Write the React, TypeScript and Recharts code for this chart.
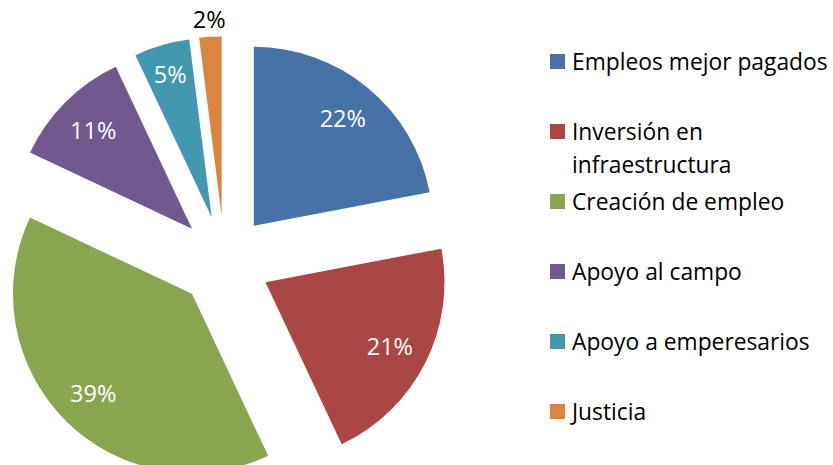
import React from 'react';
import { PieChart, Pie, Cell, Legend, Sector } from 'recharts';

const categories = [
  'Empleos mejor pagados',
  'Inversión en infraestructura',
  'Creación de empleo',
  'Apoyo al campo',
  'Apoyo a emperesarios',
  'Justicia',
];
const shares = [22, 21, 39, 11, 5, 2];
const colors = ['#4672A8', '#AA4644', '#89A54E', '#71588F', '#4298AF', '#DB843D'];

const data = categories.map((name, i) => ({ name, value: shares[i] }));

const RAD = Math.PI / 180;
const EXPLODE = 46;
const FONT = '"Open Sans", sans-serif';

// every slice is pulled out along its mid angle
const ExplodedSector = (props: any) => {
  const { cx, cy, midAngle } = props;
  const dx = EXPLODE * Math.cos(-midAngle * RAD);
  const dy = EXPLODE * Math.sin(-midAngle * RAD);
  return <Sector {...props} cx={cx + dx} cy={cy + dy} stroke="none" />;
};

const renderLabel = (props: any) => {
  const { cx, cy, midAngle, outerRadius, percent } = props;
  const outside = percent < 0.03;
  const r = outside ? outerRadius + 18 : outerRadius * (percent < 0.08 ? 0.83 : 0.78);
  const cos = Math.cos(-midAngle * RAD);
  const sin = Math.sin(-midAngle * RAD);
  const x = cx + (EXPLODE + r) * cos;
  const y = cy + (EXPLODE + r) * sin;
  return (
    <text
      x={x}
      y={y}
      fill={outside ? '#000000' : '#ffffff'}
      textAnchor="middle"
      dominantBaseline="central"
      style={{ fontSize: 23.5, fontFamily: FONT }}
    >
      {`${Math.round(percent * 100)}%`}
    </text>
  );
};

// keep legend in data order
const LegendContent = ({ payload }: any) => {
  const items = [...(payload || [])].sort(
    (a: any, b: any) => categories.indexOf(a.value) - categories.indexOf(b.value)
  );
  return (
    <div style={{ fontFamily: FONT, fontSize: 22.8, color: '#000' }}>
      {items.map((entry: any) => (
        <div key={entry.value} style={{ display: 'flex', height: 70, alignItems: 'flex-start' }}>
          <span
            style={{
              width: 15,
              height: 15,
              marginTop: 9,
              marginRight: 7,
              background: entry.color,
              flex: 'none',
            }}
          />
          <span style={{ lineHeight: '33px', width: 262 }}>{entry.value}</span>
        </div>
      ))}
    </div>
  );
};

export default function App() {
  return (
    <div style={{ position: 'absolute', left: 0, top: 0, background: '#fff' }}>
      <PieChart width={833} height={465} margin={{ top: 0, right: 0, bottom: 0, left: 0 }}>
        <Pie
          data={data}
          dataKey="value"
          nameKey="name"
          cx={224.5}
          cy={261.3}
          outerRadius={179}
          startAngle={90}
          endAngle={-270}
          shape={ExplodedSector}
          inactiveShape={ExplodedSector}
          activeShape={ExplodedSector}
          label={renderLabel}
          labelLine={false}
          isAnimationActive={false}
        >
          {data.map((d, i) => (
            <Cell key={d.name} fill={colors[i]} stroke="none" />
          ))}
        </Pie>
        <Legend
          layout="vertical"
          align="right"
          verticalAlign="top"
          itemSorter={null}
          content={<LegendContent />}
          wrapperStyle={{ position: 'absolute', left: 550, top: 45, width: 283 }}
        />
      </PieChart>
    </div>
  );
}
